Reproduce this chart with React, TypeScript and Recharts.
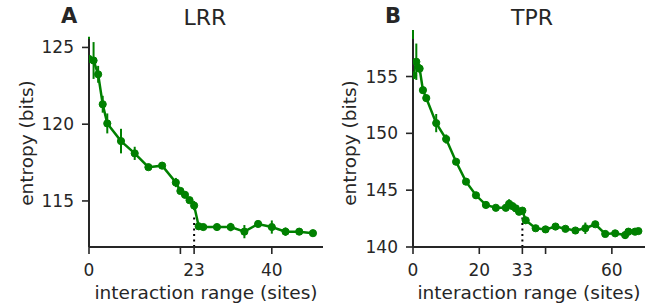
import { CartesianGrid, ErrorBar, Line, LineChart, ReferenceLine, XAxis, YAxis } from 'recharts'

const lrrX = [0, 1, 2, 3, 4, 7, 10, 13, 16, 19, 20, 21, 22, 23, 24, 25, 28, 31, 34, 37, 40, 43, 46, 49]
const lrrY = [
  124.25, 124.15, 123.25, 121.3, 120.05, 118.9, 118.1, 117.2, 117.3, 116.2, 115.65, 115.4, 115.05, 114.7,
  113.35, 113.3, 113.3, 113.3, 113.0, 113.5, 113.3, 113.0, 113.0, 112.9,
]
const lrrErr = [
  1.45, 1.2, 0.55, 0.55, 0.65, 0.8, 0.43, 0.1, 0.1, 0.3, 0.2, 0.2, 0.2, 0.3, 0.15, 0.1, 0.1, 0.27, 0.43,
  0.15, 0.43, 0.27, 0.2, 0.2,
]
const lrrXTicks = [0, 20, 23, 40]
const lrrYTicks = [115, 120, 125]

const tprX = [
  0, 1, 2, 3, 4, 7, 10, 13, 16, 19, 22, 25, 28, 29, 30, 31, 32, 33, 34, 37, 40, 43, 46, 49, 52, 55, 58, 61, 64,
  65, 67, 68,
]
const tprY = [
  155.1, 156.3, 155.7, 153.8, 153.1, 150.9, 149.5, 147.5, 145.75, 144.55, 143.7, 143.45, 143.45, 143.8, 143.6,
  143.4, 143.1, 143.2, 142.35, 141.65, 141.55, 141.8, 141.6, 141.45, 141.65, 142.0, 141.15, 141.2, 141.05,
  141.35, 141.35, 141.4,
]
const tprErr = [
  4.0, 1.6, 0.4, 0.3, 0.3, 0.8, 0.4, 0.2, 0.2, 0.2, 0.3, 0.2, 0.2, 0.4, 0.3, 0.2, 0.2, 0.2, 0.15, 0.1, 0.1,
  0.1, 0.1, 0.1, 0.5, 0.1, 0.1, 0.1, 0.35, 0.2, 0.2, 0.2,
]
const tprXTicks = [0, 20, 33, 40, 60]
const tprYTicks = [140, 145, 150, 155]

const INK = '#262626'
const GREEN = '#008000'
const FONT = '"DejaVu Sans", sans-serif'

type PanelProps = {
  letter: string
  title: string
  xs: number[]
  ys: number[]
  errs: number[]
  xTicks: number[]
  hiddenTick: number
  yTicks: number[]
  xDomain: [number, number]
  yDomain: [number, number]
  cutoff: number
  cutoffTop: number
  left: number
  axisWidth: number
  rightMargin: number
  labelOffset: number
  letterX: number
  titleX: number
}

function Panel(p: PanelProps) {
  const rows = p.xs.map((x, i) => ({ x, y: p.ys[i], err: p.errs[i] }))
  const tick = { fill: INK, fontSize: 17, fontFamily: FONT }
  return (
    <div style={{ position: 'absolute', left: p.left, top: 0, width: 327, height: 307 }}>
      <div style={{ position: 'absolute', left: p.letterX, top: 4, fontFamily: FONT, fontWeight: 'bold', fontSize: 21, color: INK }}>
        {p.letter}
      </div>
      <div style={{ position: 'absolute', left: p.titleX, top: 5, transform: 'translateX(-50%)', fontFamily: FONT, fontSize: 22, lineHeight: '26px', color: INK }}>
        {p.title}
      </div>
      <LineChart width={327} height={307} data={rows} margin={{ top: 39, right: p.rightMargin, bottom: 0, left: 0 }}>
        <CartesianGrid stroke="none" />
        <XAxis
          dataKey="x"
          type="number"
          domain={p.xDomain}
          ticks={p.xTicks}
          tickFormatter={(v) => (v === p.hiddenTick ? '' : String(v))}
          allowDataOverflow
          height={60}
          tickSize={7}
          tickMargin={10}
          axisLine={{ stroke: INK, strokeWidth: 2 }}
          tickLine={{ stroke: INK, strokeWidth: 1.6 }}
          tick={tick}
          label={{ value: 'interaction range (sites)', position: 'insideBottom', offset: 8, fill: INK, fontSize: 18.5, fontFamily: FONT }}
        />
        <YAxis
          type="number"
          domain={p.yDomain}
          ticks={p.yTicks}
          allowDataOverflow
          width={p.axisWidth}
          tickSize={7}
          tickMargin={8}
          axisLine={{ stroke: INK, strokeWidth: 2 }}
          tickLine={{ stroke: INK, strokeWidth: 1.6 }}
          tick={tick}
          label={{
            value: 'entropy (bits)',
            angle: -90,
            position: 'insideLeft',
            offset: p.labelOffset,
            fill: INK,
            fontSize: 18.5,
            fontFamily: FONT,
            style: { textAnchor: 'middle' },
          }}
        />
        <ReferenceLine
          segment={[{ x: p.cutoff, y: p.yDomain[0] }, { x: p.cutoff, y: p.cutoffTop }]}
          stroke="#000"
          strokeWidth={2}
          strokeDasharray="2 3.5"
        />
        <Line
          type="linear"
          dataKey="y"
          stroke={GREEN}
          strokeWidth={2.5}
          dot={{ r: 3.6, fill: GREEN, stroke: GREEN, strokeWidth: 1 }}
          isAnimationActive={false}
        >
          <ErrorBar dataKey="err" direction="y" width={0} stroke={GREEN} strokeWidth={2} />
        </Line>
      </LineChart>
    </div>
  )
}

export default function App() {
  return (
    <div style={{ position: 'absolute', left: 0, top: 0, width: 654, height: 307, background: '#fff', overflow: 'hidden' }}>
      <Panel
        letter="A"
        title="LRR"
        xs={lrrX}
        ys={lrrY}
        errs={lrrErr}
        xTicks={lrrXTicks}
        hiddenTick={20}
        yTicks={lrrYTicks}
        xDomain={[0, 51.2]}
        yDomain={[112, 125.55]}
        cutoff={23}
        cutoffTop={114.1}
        left={0}
        axisWidth={89}
        rightMargin={4}
        labelOffset={26}
        letterX={61}
        titleX={205}
      />
      <Panel
        letter="B"
        title="TPR"
        xs={tprX}
        ys={tprY}
        errs={tprErr}
        xTicks={tprXTicks}
        hiddenTick={40}
        yTicks={tprYTicks}
        xDomain={[0, 70]}
        yDomain={[140, 158.3]}
        cutoff={33}
        cutoffTop={142.6}
        left={327}
        axisWidth={86}
        rightMargin={9}
        labelOffset={22}
        letterX={58}
        titleX={205}
      />
    </div>
  )
}
